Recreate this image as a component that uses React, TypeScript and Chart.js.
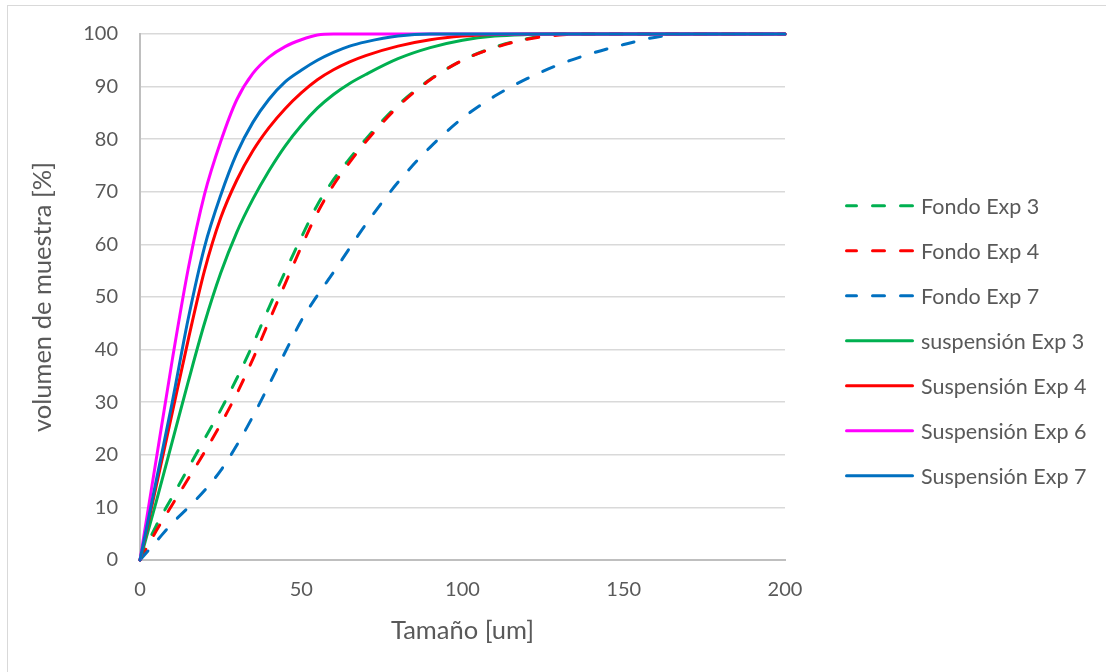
import React, { useEffect, useRef } from "react";
import { Chart, registerables } from "chart.js";

Chart.register(...registerables);

// Tamaño [um]
const sizes = [0, 5, 10, 15, 20, 25, 30, 35, 40, 45, 50, 55, 60, 65, 70, 80, 90, 100, 110, 120, 130, 140, 150, 160, 170, 180, 190, 200];

// volumen de muestra [%]
const fondoExp3 = [0, 6.5, 12, 17.5, 23, 28.5, 34.5, 41, 48, 54.8, 61.3, 67.5, 72.3, 76.3, 80, 86.5, 91.4, 95, 97.5, 99.1, 100, 100, 100, 100, 100, 100, 100, 100];
const fondoExp4 = [0, 5.5, 10.5, 15.5, 20.5, 25.8, 31.6, 38.2, 45.4, 52.5, 59.5, 66, 71.3, 75.6, 79.5, 86.2, 91.3, 95, 97.4, 99, 99.8, 100, 100, 100, 100, 100, 100, 100];
const fondoExp7 = [0, 3.5, 7, 10, 13.2, 17, 21.8, 27.3, 33.3, 39.5, 45.5, 50.3, 54.7, 59.3, 63.8, 71.8, 78.5, 84, 88.2, 91.5, 94.2, 96.3, 98, 99.4, 100, 100, 100, 100];
const suspExp3 = [0, 11, 22.5, 34, 45, 54.5, 62.3, 68.6, 74, 78.7, 82.6, 85.9, 88.5, 90.6, 92.3, 95.3, 97.4, 98.8, 99.6, 99.9, 100, 100, 100, 100, 100, 100, 100, 100];
const suspExp4 = [0, 14, 28, 42, 55, 65, 72.2, 77.8, 82.2, 85.8, 88.8, 91.3, 93.2, 94.7, 95.9, 97.7, 98.9, 99.6, 99.9, 100, 100, 100, 100, 100, 100, 100, 100, 100];
const suspExp6 = [0, 19, 38, 55.5, 69.5, 79.5, 87.5, 92.5, 95.6, 97.6, 98.9, 99.8, 100, 100, 100, 100, 100, 100, 100, 100, 100, 100, 100, 100, 100, 100, 100, 100];
const suspExp7 = [0, 15, 30, 46, 59.5, 69.3, 77.3, 83.2, 87.6, 90.9, 93.1, 95, 96.5, 97.7, 98.5, 99.6, 100, 100, 100, 100, 100, 100, 100, 100, 100, 100, 100, 100];

const seriesNames = [
  "Fondo Exp 3",
  "Fondo Exp 4",
  "Fondo Exp 7",
  "suspensión Exp 3",
  "Suspensión Exp 4",
  "Suspensión Exp 6",
  "Suspensión Exp 7",
];
const seriesValues = [fondoExp3, fondoExp4, fondoExp7, suspExp3, suspExp4, suspExp6, suspExp7];
const seriesColors = ["#00B050", "#FF0000", "#0070C0", "#00B050", "#FF0000", "#FF00FF", "#0070C0"];
const seriesDashed = [true, true, true, false, false, false, false];

const xTitle = "Tamaño [um]";
const yTitle = "volumen de muestra [%]";

const FONT = "Lato, 'Open Sans', sans-serif";
const TEXT = "#595959";

// legend drawn on the canvas, to the right of the plot area
const sideLegend = {
  id: "sideLegend",
  afterDraw(chart: any) {
    const ctx = chart.ctx;
    const area = chart.chartArea;
    const lineStart = area.right + 61.5;
    const lineEnd = area.right + 127.5;
    const textX = area.right + 136;
    const top = 205.7;
    const step = 45;
    ctx.save();
    chart.data.datasets.forEach((ds: any, i: number) => {
      const y = top + i * step;
      ctx.beginPath();
      ctx.setLineDash(ds.borderDash || []);
      ctx.lineCap = "round";
      ctx.lineWidth = ds.borderWidth;
      ctx.strokeStyle = ds.borderColor;
      ctx.moveTo(lineEnd, y);
      ctx.lineTo(lineStart, y);
      ctx.stroke();
      ctx.setLineDash([]);
      ctx.fillStyle = TEXT;
      ctx.font = `21.5px ${FONT}`;
      ctx.textBaseline = "middle";
      ctx.textAlign = "left";
      ctx.fillText(ds.label, textX, y + 1);
    });
    ctx.restore();
  },
};

export default function App() {
  const ref = useRef<HTMLCanvasElement>(null);

  useEffect(() => {
    if (!ref.current) return;
    const n = seriesNames.length;
    const datasets = seriesNames.map((label, i) => ({
      label,
      data: sizes.map((x, k) => ({ x, y: seriesValues[i][k] })),
      borderColor: seriesColors[i],
      backgroundColor: seriesColors[i],
      borderWidth: 3,
      borderDash: seriesDashed[i] ? [12, 16] : [],
      borderCapStyle: "round" as const,
      borderJoinStyle: "round" as const,
      pointRadius: 0,
      pointHoverRadius: 0,
      fill: false,
      cubicInterpolationMode: "monotone" as const,
      clip: 6,
      order: n - 1 - i,
    }));

    const chart = new Chart(ref.current, {
      type: "line",
      data: { datasets },
      plugins: [sideLegend],
      options: {
        animation: false,
        responsive: false,
        devicePixelRatio: 1,
        layout: { padding: { left: 0, right: 321, top: 34, bottom: 23 } },
        plugins: {
          tooltip: { enabled: false },
          legend: { display: false },
        },
        scales: {
          x: {
            type: "linear",
            min: 0,
            max: 200,
            ticks: { stepSize: 50, color: TEXT, font: { family: FONT, size: 20 }, padding: 18, maxRotation: 0, autoSkip: false },
            grid: { display: true, drawOnChartArea: false, drawTicks: false },
            border: { display: true, color: "#bfbfbf", width: 2 },
            title: { display: true, text: xTitle, color: TEXT, font: { family: FONT, size: 25.5 }, padding: { top: 0, bottom: 3 } },
            afterFit: (s: any) => { s.height = 89; },
          },
          y: {
            type: "linear",
            min: 0,
            max: 100,
            ticks: { stepSize: 10, color: TEXT, font: { family: FONT, size: 20 }, padding: 22 },
            grid: {
              drawTicks: false,
              color: (c: any) => (c.tick && c.tick.value === 0 ? "rgba(0,0,0,0)" : "#d9d9d9"),
              lineWidth: 1.5,
            },
            border: { display: true, color: "#bfbfbf", width: 2 },
            title: { display: true, text: yTitle, color: TEXT, font: { family: FONT, size: 25.5 }, padding: { top: 27, bottom: 0 } },
            afterFit: (s: any) => { s.width = 140; },
          },
        },
      },
    });
    return () => chart.destroy();
  }, []);

  return (
    <div style={{ position: "fixed", left: 0, top: 0, width: 1106, height: 672, background: "#fff", overflow: "hidden" }}>
      <div style={{ position: "absolute", left: 7, top: 5, width: 1200, height: 800, border: "1px solid #d9d9d9" }} />
      <canvas ref={ref} width={1106} height={672} style={{ position: "absolute", left: 0, top: 0 }} />
    </div>
  );
}
